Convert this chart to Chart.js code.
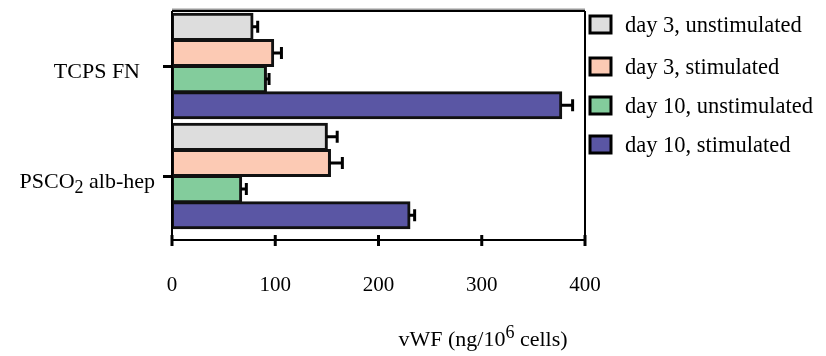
<!DOCTYPE html>
<html>
<head>
<meta charset="utf-8">
<script src="https://cdn.jsdelivr.net/npm/chart.js@4.4.1/dist/chart.umd.min.js"></script>
<style>
  html, body { margin: 0; padding: 0; background: #fff; }
  #wrap { width: 826px; height: 356px; position: relative; }
</style>
</head>
<body>
<div id="wrap"><canvas id="vwfChart" width="826" height="356"></canvas></div>
<script>
const categories = ['TCPS FN', 'PSCO2 alb-hep'];
const seriesNames = ['day 3, unstimulated', 'day 3, stimulated', 'day 10, unstimulated', 'day 10, stimulated'];
const day3Unstim = [78, 150];
const day3Stim = [98, 153];
const day10Unstim = [91, 67];
const day10Stim = [377, 230];
const day3UnstimErr = [5, 10];
const day3StimErr = [8, 12];
const day10UnstimErr = [3, 5];
const day10StimErr = [11, 5];
const xTicks = [0, 100, 200, 300, 400];

const FONT = '"Liberation Serif", "Times New Roman", serif';
const colors = ['#dddddd', '#fccab4', '#83cc9c', '#5a56a4'];
const values = [day3Unstim, day3Stim, day10Unstim, day10Stim];
const errors = [day3UnstimErr, day3StimErr, day10UnstimErr, day10StimErr];

// frame, axis line, error bars, legend, category labels and axis title
const decorations = {
  id: 'decorations',
  afterDatasetsDraw(chart) {
    const ctx = chart.ctx;
    const area = chart.chartArea;
    const xs = chart.scales.x;
    const axisY = area.bottom + 9;
    ctx.save();
    ctx.strokeStyle = '#000';

    // error bars, one-sided toward larger values
    ctx.lineWidth = 3;
    chart.data.datasets.forEach((ds, di) => {
      chart.getDatasetMeta(di).data.forEach((bar, i) => {
        const end = xs.getPixelForValue(ds.data[i] + errors[di][i]);
        ctx.beginPath();
        ctx.moveTo(bar.x, bar.y);
        ctx.lineTo(end, bar.y);
        ctx.moveTo(end, bar.y - 6);
        ctx.lineTo(end, bar.y + 6);
        ctx.stroke();
      });
    });

    // box: top (grey), right, left and bottom axis
    ctx.lineWidth = 2;
    ctx.strokeStyle = '#999';
    ctx.beginPath();
    ctx.moveTo(area.left, area.top - 1.5);
    ctx.lineTo(area.right, area.top - 1.5);
    ctx.stroke();
    ctx.strokeStyle = '#000';
    ctx.beginPath();
    ctx.moveTo(area.left, area.top);
    ctx.lineTo(area.right, area.top);
    ctx.moveTo(area.right, area.top);
    ctx.lineTo(area.right, axisY);
    ctx.moveTo(area.left, area.top);
    ctx.lineTo(area.left, axisY);
    ctx.moveTo(area.left, axisY);
    ctx.lineTo(area.right, axisY);
    ctx.stroke();

    // x tick marks crossing the axis
    ctx.lineWidth = 3;
    xTicks.forEach(v => {
      const px = xs.getPixelForValue(v);
      ctx.beginPath();
      ctx.moveTo(px, axisY - 5);
      ctx.lineTo(px, axisY + 6);
      ctx.stroke();
    });

    // category labels, with subscript on the digit
    const ys = chart.scales.y;
    ctx.fillStyle = '#000';
    ctx.textBaseline = 'alphabetic';
    categories.forEach((label, i) => {
      const py = ys.getPixelForTick(i) + 12;
      const m = label.match(/^(\D*)(\d)(.*)$/);
      ctx.font = '22px ' + FONT;
      if (m) {
        const w1 = ctx.measureText(m[1]).width;
        const w3 = ctx.measureText(m[3]).width;
        ctx.font = '18px ' + FONT;
        const w2 = ctx.measureText(m[2]).width;
        const x = 155 - w1 - w2 - w3;
        ctx.font = '22px ' + FONT;
        ctx.textAlign = 'left';
        ctx.fillText(m[1], x, py);
        ctx.font = '18px ' + FONT;
        ctx.fillText(m[2], x + w1, py + 5);
        ctx.font = '22px ' + FONT;
        ctx.fillText(m[3], x + w1 + w2, py);
      } else {
        ctx.textAlign = 'right';
        ctx.fillText(label, 140, py);
      }
    });

    // legend
    const legendY = [24, 66, 105, 144];
    chart.data.datasets.forEach((ds, di) => {
      const cy = legendY[di];
      ctx.fillStyle = ds.backgroundColor;
      ctx.fillRect(590, cy - 8, 21, 17);
      ctx.lineWidth = 3;
      ctx.strokeStyle = '#000';
      ctx.strokeRect(590, cy - 8, 21, 17);
      ctx.fillStyle = '#000';
      ctx.font = '22.5px ' + FONT;
      ctx.textAlign = 'left';
      ctx.textBaseline = 'middle';
      ctx.fillText(ds.label, 625, cy + 2);
    });

    // axis title with superscript, centred under its span
    ctx.textBaseline = 'alphabetic';
    ctx.textAlign = 'left';
    ctx.font = '22px ' + FONT;
    const t1 = 'vWF (ng/10';
    const t3 = ' cells)';
    const w1 = ctx.measureText(t1).width;
    const w3 = ctx.measureText(t3).width;
    ctx.font = '18px ' + FONT;
    const w2 = ctx.measureText('6').width;
    let tx = 483 - (w1 + w2 + w3) / 2;
    ctx.font = '22px ' + FONT;
    ctx.fillText(t1, tx, 346);
    ctx.font = '18px ' + FONT;
    ctx.fillText('6', tx + w1, 338);
    ctx.font = '22px ' + FONT;
    ctx.fillText(t3, tx + w1 + w2, 346);
    ctx.restore();
  }
};

new Chart(document.getElementById('vwfChart'), {
  type: 'bar',
  data: {
    labels: categories,
    datasets: seriesNames.map((name, i) => ({
      label: name,
      data: values[i],
      backgroundColor: colors[i],
      borderColor: '#111',
      borderWidth: 3,
      borderSkipped: false,
      inflateAmount: 1,
      categoryPercentage: 0.95,
      barPercentage: 1.0
    }))
  },
  options: {
    indexAxis: 'y',
    responsive: false,
    animation: false,
    devicePixelRatio: 1,
    layout: { padding: { top: 11, right: 241, left: 0, bottom: 0 } },
    plugins: { legend: { display: false }, tooltip: { enabled: false } },
    scales: {
      x: {
        min: 0, max: 400,
        afterFit(scale) { scale.height = 125; },
        afterBuildTicks(scale) { scale.ticks = xTicks.map(v => ({ value: v })); },
        grid: { display: false },
        border: { display: false },
        ticks: { color: '#000', padding: 34, font: { family: FONT, size: 21 } }
      },
      y: {
        afterFit(scale) { scale.width = 172; },
        grid: {
          display: true, drawOnChartArea: false, offset: false,
          tickLength: 9, lineWidth: 3, color: '#000'
        },
        border: { display: false },
        ticks: { display: false }
      }
    }
  },
  plugins: [decorations]
});
</script>
</body>
</html>
